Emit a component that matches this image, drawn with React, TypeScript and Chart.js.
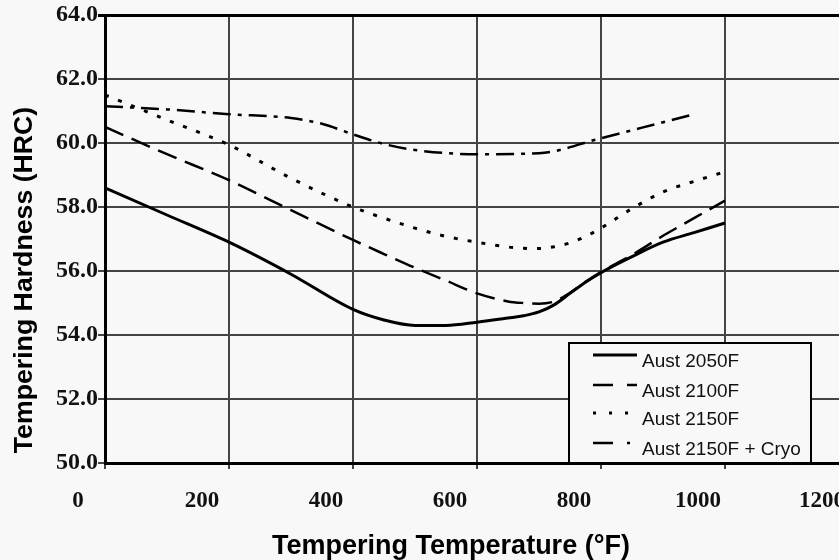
import React, { useEffect, useRef } from "react";
import { Chart, registerables } from "chart.js";

Chart.register(...registerables);

// ---- data ----
const temps = [0, 100, 200, 300, 400, 450, 500, 550, 600, 650, 675, 700, 725, 750, 775, 800, 850, 900, 950, 1000];
const aust2050 = [58.6, 57.75, 56.9, 55.9, 54.8, 54.47, 54.3, 54.3, 54.4, 54.53, 54.6, 54.72, 54.95, 55.3, 55.65, 55.95, 56.45, 56.9, 57.2, 57.5];
const aust2100 = [60.5, 59.65, 58.84, 57.9, 56.97, 56.53, 56.1, 55.7, 55.3, 55.05, 55.0, 54.98, 55.05, 55.32, 55.66, 55.97, 56.5, 57.1, 57.65, 58.2];
const aust2150 = [61.5, 60.72, 59.94, 58.9, 58.0, 57.65, 57.34, 57.08, 56.9, 56.75, 56.71, 56.7, 56.76, 56.88, 57.08, 57.34, 57.95, 58.47, 58.8, 59.1];
const cryoTemps = [0, 100, 200, 300, 350, 400, 450, 500, 600, 700, 800, 900, 950];
const aust2150Cryo = [61.15, 61.05, 60.9, 60.78, 60.6, 60.27, 59.97, 59.78, 59.65, 59.68, 60.15, 60.65, 60.9];

const seriesLabels = ["Aust 2050F", "Aust 2100F", "Aust 2150F", "Aust 2150F + Cryo"];
const xTitle = "Tempering Temperature (°F)";
const yTitle = "Tempering Hardness (HRC)";
const xMin = 0, xMax = 1200, xStep = 200;
const yMin = 50, yMax = 64, yStep = 2;

const BG = "#f8f8f8";

const toPts = (xs: number[], ys: number[]) => xs.map((x, i) => ({ x, y: ys[i] }));

const decor = {
  id: "decor",
  beforeDraw(chart: any) {
    const ctx = chart.ctx;
    ctx.save();
    ctx.fillStyle = BG;
    ctx.fillRect(0, 0, chart.width, chart.height);
    ctx.restore();
  },
  afterDraw(chart: any) {
    const ctx = chart.ctx;
    const area = chart.chartArea;
    ctx.save();
    ctx.fillStyle = "#000";
    ctx.textAlign = "center";
    ctx.textBaseline = "middle";
    // x title
    ctx.font = "bold 27px 'Liberation Sans', Arial, sans-serif";
    ctx.fillText(xTitle, 451, 547);
    // y title
    ctx.save();
    ctx.font = "bold 26.7px 'Liberation Sans', Arial, sans-serif";
    ctx.translate(25, 280);
    ctx.rotate(-Math.PI / 2);
    ctx.fillText(yTitle, 0, 0);
    ctx.restore();

    // legend
    const bx = 569, by = 343, bw = 242, bh = area.bottom - 343;
    ctx.fillStyle = BG;
    ctx.fillRect(bx, by, bw, bh);
    ctx.strokeStyle = "#000";
    ctx.lineWidth = 2;
    ctx.strokeRect(bx, by, bw, bh);
    const rowY = [355, 385, 413, 443];
    const legendDash = [[], [20, 14], [3, 13], [20, 14, 3, 20]];
    chart.data.datasets.forEach((ds: any, i: number) => {
      const y = rowY[i];
      ctx.beginPath();
      ctx.setLineDash(legendDash[i]);
      ctx.lineWidth = ds.borderWidth;
      ctx.strokeStyle = ds.borderColor;
      ctx.lineCap = "butt";
      ctx.moveTo(593, y);
      ctx.lineTo(637, y);
      ctx.stroke();
      ctx.setLineDash([]);
      ctx.fillStyle = "#111";
      ctx.font = "19px 'Liberation Sans', Arial, sans-serif";
      ctx.textAlign = "left";
      ctx.textBaseline = "middle";
      ctx.fillText(ds.label, 642, y + 7);
    });
    ctx.restore();
  },
};

export default function App() {
  const ref = useRef<HTMLCanvasElement>(null);
  useEffect(() => {
    if (!ref.current) return;
    const common = {
      borderColor: "#000",
      pointRadius: 0,
      fill: false,
      cubicInterpolationMode: "monotone" as const,
      borderCapStyle: "butt" as const,
    };
    const chart = new Chart(ref.current, {
      type: "line",
      data: {
        datasets: [
          { ...common, label: seriesLabels[0], data: toPts(temps, aust2050), borderWidth: 3 },
          { ...common, label: seriesLabels[1], data: toPts(temps, aust2100), borderWidth: 2.5, borderDash: [20, 9] },
          { ...common, label: seriesLabels[2], data: toPts(temps, aust2150), borderWidth: 3, borderDash: [4, 10] },
          { ...common, label: seriesLabels[3], data: toPts(cryoTemps, aust2150Cryo), borderWidth: 2.5, borderDash: [18, 7, 4, 7] },
        ],
      },
      options: {
        responsive: false,
        animation: false,
        devicePixelRatio: 1,
        layout: { padding: { top: 15, right: 31, left: 0, bottom: 0 } },
        plugins: { legend: { display: false }, tooltip: { enabled: false } },
        scales: {
          x: {
            type: "linear",
            min: xMin,
            max: xMax,
            afterFit: (s: any) => { s.height = 97; s.paddingLeft = 0; s.paddingRight = 0; },
            ticks: {
              stepSize: xStep,
              autoSkip: false,
              maxRotation: 0,
              labelOffset: -27,
              padding: 18,
              color: "#111",
              callback: (v: any) => String(v),
              font: { family: "'Liberation Serif', 'Times New Roman', serif", size: 23, weight: "bold" },
            },
            grid: { color: "#444", lineWidth: 2, tickLength: 6 },
            border: { color: "#000", width: 3 },
          },
          y: {
            min: yMin,
            max: yMax,
            afterFit: (s: any) => { s.width = 105; s.paddingTop = 0; s.paddingBottom = 0; },
            ticks: {
              stepSize: yStep,
              padding: 0,
              color: "#111",
              callback: (v: any) => Number(v).toFixed(1),
              font: { family: "'Liberation Serif', 'Times New Roman', serif", size: 24, weight: "bold" },
            },
            grid: {
              color: (c: any) => (c.tick && c.tick.value === yMax ? "#000" : "#444"),
              lineWidth: (c: any) => (c.tick && c.tick.value === yMax ? 3 : 2),
              tickLength: 7,
            },
            border: { color: "#000", width: 3 },
          },
        },
      },
      plugins: [decor],
    });
    return () => chart.destroy();
  }, []);
  return (
    <div style={{ position: "fixed", left: 0, top: 0, width: 839, height: 560, overflow: "hidden", background: BG }}>
      <canvas ref={ref} width={880} height={560} style={{ display: "block" }} />
    </div>
  );
}
